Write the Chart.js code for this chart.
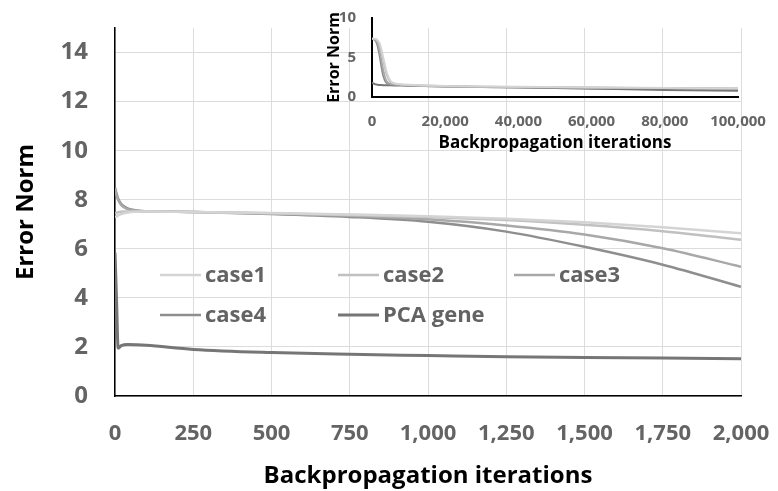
<!DOCTYPE html>
<html><head><meta charset="utf-8">
<script src="https://cdn.jsdelivr.net/npm/chart.js@4.4.1/dist/chart.umd.min.js"></script>
<style>
html,body{margin:0;padding:0;background:#fff;}
#wrap{position:relative;width:778px;height:491px;overflow:hidden;}
#main{position:absolute;left:0;top:0;}
#inset{position:absolute;left:320px;top:0;}
</style></head><body>
<div id="wrap"><canvas id="main" width="778" height="491"></canvas><canvas id="inset" width="458" height="160"></canvas></div>
<script>
// ---- data ----
const seriesNames = ['case1', 'case2', 'case3', 'case4', 'PCA gene'];
const seriesColors = ['#d4d4d4', '#c0c0c0', '#a8a8a8', '#8e8e8e', '#767676'];

// main chart (first 2,000 iterations)
const iterations = [0, 5, 10, 20, 40, 70, 100, 250, 500, 750, 1000, 1250, 1500, 1750, 2000];
const case1 = [7.30, 7.32, 7.36, 7.42, 7.48, 7.51, 7.52, 7.50, 7.46, 7.40, 7.33, 7.22, 7.08, 6.88, 6.63];
const case2 = [7.45, 7.47, 7.49, 7.51, 7.52, 7.52, 7.52, 7.50, 7.45, 7.38, 7.30, 7.17, 6.98, 6.72, 6.37];
const case3 = [8.45, 8.20, 8.00, 7.78, 7.62, 7.55, 7.53, 7.50, 7.44, 7.35, 7.20, 6.95, 6.58, 6.02, 5.27];
const case4 = [8.50, 8.25, 8.05, 7.82, 7.65, 7.56, 7.53, 7.50, 7.42, 7.30, 7.10, 6.70, 6.08, 5.35, 4.45];
const pcaGene = [5.85, 3.90, 1.95, 2.05, 2.10, 2.09, 2.07, 1.90, 1.77, 1.70, 1.65, 1.60, 1.57, 1.55, 1.52];
const yTicksMain = [0, 2, 4, 6, 8, 10, 12, 14];
const xTicksMain = [0, 250, 500, 750, 1000, 1250, 1500, 1750, 2000];

// inset chart (100,000 iterations)
const insetIterations = [0, 1000, 1500, 2000, 2500, 3000, 3500, 4000, 5000, 6000, 8000, 10000, 20000, 40000, 60000, 80000, 100000];
const insetCase1 = [7.4, 7.35, 7.2, 6.9, 6.2, 5.2, 4.2, 3.2, 2.1, 1.75, 1.6, 1.55, 1.4, 1.3, 1.22, 1.16, 1.1];
const insetCase2 = [7.4, 7.3, 7.1, 6.7, 5.8, 4.7, 3.7, 2.8, 1.9, 1.7, 1.58, 1.52, 1.38, 1.28, 1.2, 1.14, 1.08];
const insetCase3 = [7.4, 7.2, 6.8, 6.0, 4.8, 3.6, 2.6, 2.0, 1.7, 1.6, 1.52, 1.48, 1.35, 1.25, 1.18, 1.12, 1.05];
const insetCase4 = [7.4, 7.1, 6.5, 5.4, 4.0, 2.8, 2.1, 1.75, 1.6, 1.55, 1.5, 1.45, 1.32, 1.22, 1.15, 1.1, 1.02];
const insetPca = [1.8, 1.6, 1.56, 1.53, 1.52, 1.5, 1.5, 1.49, 1.48, 1.47, 1.45, 1.43, 1.35, 1.2, 1.05, 0.9, 0.8];
const yTicksInset = [0, 5, 10];
const xTicksInset = [0, 20000, 40000, 60000, 80000, 100000];

// ---- build ----
const FONT = '"Open Sans", "Liberation Sans", sans-serif';
const fmt = v => Number(v).toLocaleString('en-US');
const toPts = (xs, ys) => xs.map((x, i) => ({x: x, y: ys[i]}));
const noPad = s => { s.paddingLeft = 0; s.paddingRight = 0; s.paddingTop = 0; s.paddingBottom = 0; };

function makeSets(xs, list, widths) {
  return list.map((ys, i) => ({
    label: seriesNames[i],
    data: toPts(xs, ys),
    borderColor: seriesColors[i],
    backgroundColor: seriesColors[i],
    borderWidth: widths[i],
    pointRadius: 0,
    fill: false,
    cubicInterpolationMode: 'monotone'
  }));
}

const insideLegend = {
  id: 'insideLegend',
  afterDatasetsDraw(chart) {
    const {ctx, chartArea} = chart;
    const cols = [45, 223, 399];
    const rows = [247, 287];
    chart.data.datasets.forEach((ds, i) => {
      const x = chartArea.left + cols[i % 3];
      const y = chartArea.top + rows[Math.floor(i / 3)];
      ctx.save();
      ctx.strokeStyle = ds.borderColor;
      ctx.lineWidth = ds.borderWidth;
      ctx.beginPath(); ctx.moveTo(x, y); ctx.lineTo(x + 41, y); ctx.stroke();
      ctx.fillStyle = '#636363';
      ctx.font = 'bold 22px ' + FONT;
      ctx.textBaseline = 'middle';
      ctx.fillText(ds.label, x + 45, y + 1);
      ctx.restore();
    });
  }
};

Chart.defaults.font.family = FONT;

new Chart(document.getElementById('main'), {
  type: 'line',
  data: { datasets: makeSets(iterations, [case1, case2, case3, case4, pcaGene], [2.5, 2.5, 2.5, 2.5, 3]) },
  options: {
    responsive: false, animation: false, devicePixelRatio: 1,
    layout: { padding: { top: 28, right: 37, left: 0, bottom: 0 } },
    plugins: { legend: { display: false }, tooltip: { enabled: false } },
    scales: {
      x: {
        type: 'linear', min: 0, max: 2000,
        afterBuildTicks: s => { s.ticks = xTicksMain.map(v => ({value: v})); },
        afterFit: s => { s.height = 95; noPad(s); },
        border: { color: '#000', width: 1.5 },
        grid: { color: '#dcdcdc', lineWidth: 1, drawTicks: false },
        ticks: { padding: 25, color: '#646464', maxRotation: 0, autoSkip: false,
                 font: { size: 22, weight: 'bold' }, callback: v => fmt(v) },
        title: { display: true, text: 'Backpropagation iterations', color: '#000',
                 font: { size: 24, weight: 'bold' }, padding: { top: 0, bottom: 0 } }
      },
      y: {
        type: 'linear', min: 0, max: 15,
        afterBuildTicks: s => { s.ticks = yTicksMain.map(v => ({value: v})); },
        afterFit: s => { s.width = 115; noPad(s); },
        border: { color: '#000', width: 1.5 },
        grid: { color: '#dcdcdc', lineWidth: 1, drawTicks: false },
        ticks: { padding: 27, color: '#646464', font: { size: 24, weight: 'bold' } },
        title: { display: true, text: 'Error Norm', color: '#000',
                 font: { size: 24, weight: 'bold' }, padding: { top: 12, bottom: 0 } }
      }
    }
  },
  plugins: [insideLegend]
});

new Chart(document.getElementById('inset'), {
  type: 'line',
  data: { datasets: makeSets(insetIterations, [insetCase1, insetCase2, insetCase3, insetCase4, insetPca], [1.8, 1.8, 1.8, 1.8, 2]) },
  options: {
    responsive: false, animation: false, devicePixelRatio: 1,
    layout: { padding: { top: 18, right: 40, left: 0, bottom: 0 } },
    plugins: { legend: { display: false }, tooltip: { enabled: false } },
    scales: {
      x: {
        type: 'linear', min: 0, max: 100000,
        afterBuildTicks: s => { s.ticks = xTicksInset.map(v => ({value: v})); },
        afterFit: s => { s.height = 63; noPad(s); },
        border: { color: '#000', width: 2 },
        grid: { display: false, drawTicks: false },
        ticks: { padding: 16, color: '#646464', maxRotation: 0, autoSkip: false,
                 font: { size: 15, weight: 'bold' }, callback: v => fmt(v) },
        title: { display: true, text: 'Backpropagation iterations', color: '#000',
                 font: { size: 17, weight: 'bold' }, padding: { top: 0, bottom: 7 } }
      },
      y: {
        type: 'linear', min: 0, max: 10,
        afterBuildTicks: s => { s.ticks = yTicksInset.map(v => ({value: v})); },
        afterFit: s => { s.width = 52; noPad(s); },
        border: { color: '#000', width: 2 },
        grid: { display: false, drawTicks: false },
        ticks: { padding: 16, color: '#646464', font: { size: 15, weight: 'bold' } },
        title: { display: true, text: 'Error Norm', color: '#000',
                 font: { size: 16, weight: 'bold' }, padding: { top: 5, bottom: 0 } }
      }
    }
  }
});
</script>
</body></html>
